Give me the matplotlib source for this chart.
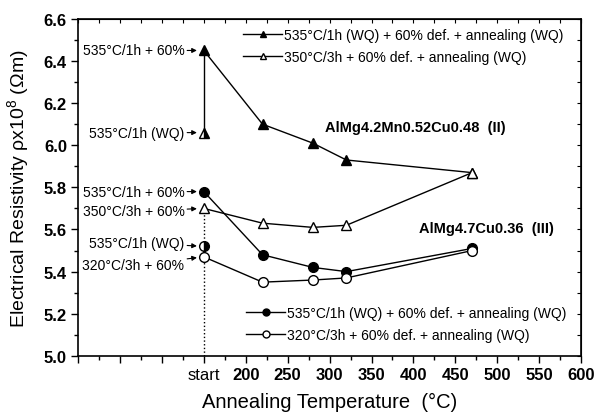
import matplotlib.pyplot as plt
from matplotlib.lines import Line2D
from matplotlib.ticker import MultipleLocator, FuncFormatter

plt.rcParams['font.family'] = ['Liberation Sans', 'DejaVu Sans']
plt.rcParams['mathtext.fontset'] = 'custom'
plt.rcParams['mathtext.rm'] = 'Liberation Sans'

# annealing temperatures; 150 stands for the "start" state
temps = [150, 220, 280, 320, 470]

# alloy II
tri_fill = [6.45, 6.10, 6.01, 5.93, 5.87]    # 535C/1h (WQ) + 60% def. + annealing
tri_open = [5.70, 5.63, 5.61, 5.62, 5.87]    # 350C/3h + 60% def. + annealing
tri_wq = 6.06    # 535C/1h (WQ) before deformation

# alloy III
circ_fill = [5.78, 5.48, 5.42, 5.40, 5.51]    # 535C/1h (WQ) + 60% def. + annealing
circ_open = [5.47, 5.35, 5.36, 5.37, 5.50]    # 320C/3h + 60% def. + annealing
circ_wq = 5.52

fig = plt.figure(figsize=(5.96, 4.14), dpi=100)
ax = fig.add_axes([0.131, 0.138, 0.844, 0.814])

ms = 7
ax.plot([temps[0], temps[0]], [5.0, tri_open[0]], ls=':', color='k', lw=1)
ax.plot([temps[0], temps[0]], [tri_wq, tri_fill[0]], color='k', lw=1)
ax.plot(temps, tri_fill, '-^', color='k', mfc='k', ms=ms, lw=1)
ax.plot(temps, tri_open, '-^', color='k', mfc='white', ms=ms, lw=1)
ax.plot(temps, circ_fill, '-o', color='k', mfc='k', ms=ms, lw=1)
ax.plot(temps, circ_open, '-o', color='k', mfc='white', ms=ms, lw=1)
ax.plot([temps[0]], [tri_wq], '^', color='k', ms=ms, fillstyle='right', mfcalt='white')
ax.plot([temps[0]], [circ_wq], 'o', color='k', ms=ms, fillstyle='right', mfcalt='white')

ax.set_xlim(0, 600)
ax.set_ylim(5.0, 6.6)


def xfmt(v, pos):
    if v < 149:
        return ''
    if v < 151:
        return 'start'
    return f'{v:.0f}'


ax.xaxis.set_major_locator(MultipleLocator(50))
ax.xaxis.set_minor_locator(MultipleLocator(25))
ax.xaxis.set_major_formatter(FuncFormatter(xfmt))
ax.yaxis.set_major_locator(MultipleLocator(0.2))
ax.yaxis.set_minor_locator(MultipleLocator(0.1))
ax.yaxis.set_major_formatter(FuncFormatter(lambda v, p: f'{v:.1f}'))
for lab in ax.get_xticklabels() + ax.get_yticklabels():
    lab.set_fontweight('bold')
    lab.set_fontsize(12)
fig.canvas.draw()
for lab in ax.get_xticklabels():
    if lab.get_text() == 'start':
        lab.set_fontweight('normal')
ax.tick_params(which='both', direction='out', top=False, right=False, width=1)
ax.tick_params(which='major', length=5, pad=3)
ax.tick_params(which='minor', length=3)
for s in ax.spines.values():
    s.set_linewidth(1.2)

# inward ticks on top and right
ax2 = ax.secondary_xaxis('top')
ax2.xaxis.set_major_locator(MultipleLocator(25))
ax2.tick_params(direction='in', length=3, labeltop=False)
ax3 = ax.secondary_yaxis('right')
ax3.yaxis.set_major_locator(MultipleLocator(0.1))
ax3.tick_params(direction='in', length=3, labelright=False)

ax.set_xlabel('Annealing Temperature  (°C)', fontsize=14.5)
ax.xaxis.set_label_coords(0.5, -0.106)
ax.set_ylabel(r'Electrical Resistivity ρx10$^8$ (Ωm)', fontsize=14)
ax.yaxis.set_label_coords(-0.092, 0.5)

arrow = dict(arrowstyle='-|>', color='k', lw=0.8, mutation_scale=7,
             shrinkA=0, shrinkB=5)
notes = [('535°C/1h + 60%', tri_fill[0], 0),
         ('535°C/1h (WQ)', tri_wq, 0),
         ('535°C/1h + 60%', circ_fill[0], 0),
         ('350°C/3h + 60%', tri_open[0], -2),
         ('535°C/1h (WQ)', circ_wq, 2.5),
         ('320°C/3h + 60%', circ_open[0], -6)]
for txt, yv, dy in notes:
    ax.annotate(txt, xy=(temps[0], yv), xytext=(-14, dy), textcoords='offset points',
                ha='right', va='center', fontsize=10, arrowprops=arrow)

ax.text(295, 6.087, 'AlMg4.2Mn0.52Cu0.48  (II)', fontsize=10.5, va='center',
        fontweight='bold')
ax.text(407, 5.608, 'AlMg4.7Cu0.36  (III)', fontsize=10.5, va='center',
        fontweight='bold')

leg_kw = dict(loc='upper left', frameon=False, prop=dict(size=10),
              handlelength=2.8, handletextpad=0.15, labelspacing=0.55,
              borderaxespad=0, borderpad=0)
h1 = [Line2D([], [], color='k', marker='^', mfc='k', ms=5, lw=1),
      Line2D([], [], color='k', marker='^', mfc='white', ms=5, lw=1)]
l1 = ax.legend(h1, ['535°C/1h (WQ) + 60% def. + annealing (WQ)',
                    '350°C/3h + 60% def. + annealing (WQ)'],
               bbox_to_anchor=(0.328, 0.973), **leg_kw)
ax.add_artist(l1)
h2 = [Line2D([], [], color='k', marker='o', mfc='k', ms=5, lw=1),
      Line2D([], [], color='k', marker='o', mfc='white', ms=5, lw=1)]
ax.legend(h2, ['535°C/1h (WQ) + 60% def. + annealing (WQ)',
               '320°C/3h + 60% def. + annealing (WQ)'],
          bbox_to_anchor=(0.334, 0.148), **leg_kw)

fig.savefig('out.png', dpi=100)
